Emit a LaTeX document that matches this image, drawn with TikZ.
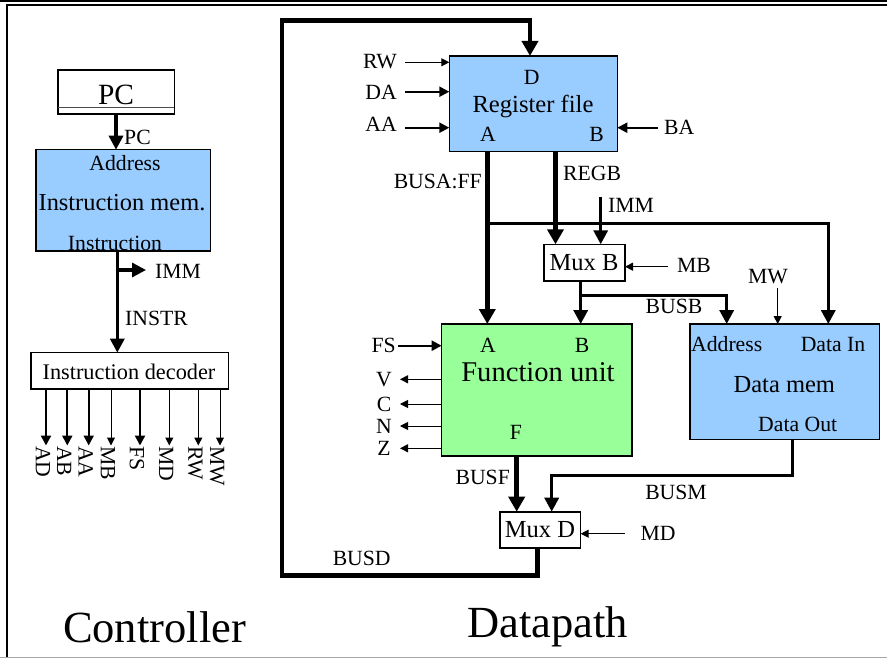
\documentclass[tikz,border=0pt]{standalone}
\usepackage{fontspec}
\setmainfont{Liberation Serif}
\usetikzlibrary{arrows.meta,calc}
\definecolor{memblue}{HTML}{99CCFF}
\definecolor{fugreen}{HTML}{99FF99}
\begin{document}
\begin{tikzpicture}[x=1pt,y=-1pt,line join=miter,
 box/.style={draw=black,line width=1.6pt,inner sep=0pt,outer sep=0pt},
 lbl/.style={inner sep=0pt,font=\fontsize{21.7}{22}\selectfont},
 midtxt/.style={inner sep=0pt,font=\fontsize{24.5}{25}\selectfont},
 bigtxt/.style={inner sep=0pt,font=\fontsize{44.5}{45}\selectfont},
 sigar/.style={line width=1pt,-{Triangle[length=8pt,width=8pt]}},
 ctlar/.style={line width=2.2pt,-{Triangle[length=10pt,width=10pt]}},
 busar/.style={line width=3.3pt,-{Triangle[length=14pt,width=14pt]}},
 widebus/.style={line width=4.5pt,-{Triangle[length=15pt,width=16pt]}},
]
\useasboundingbox (0,0) rectangle (887,658);
% frame
\draw[line width=2pt] (0,1) -- (887,1);
\draw[line width=2pt] (6,5.5) -- (887,5.5);
\draw[line width=2pt] (7,5.5) -- (7,657);
\draw[line width=1.5pt,black!35] (0,657.3) -- (887,657.3);

% ---------------- Controller ----------------
\node[box,minimum width=116.6pt,minimum height=44pt] (pc) at (116,92) {};
\draw[line width=0.8pt,black!70] ($(pc.south west)+(0,-7)$) -- ($(pc.south east)+(0,-7)$);
\node[inner sep=0pt,font=\fontsize{29.4}{30}\selectfont] (pctxt) at (116,95) {PC};

\node[box,fill=memblue,minimum width=174.7pt,minimum height=101pt] (imem) at (123.3,200.2) {};
\node[lbl] (imaddr) at (125,163) {Address};
\node[inner sep=0pt,font=\fontsize{24.4}{25}\selectfont] (imname) at (122,203) {Instruction mem.};
\node[lbl] (iminstr) at (115,243) {Instruction};

\draw[busar] (116,0 |- pc.south) -- (116,0 |- imem.north);
\node[lbl,anchor=west] (pclbl) at (124,137) {PC};

\node[box,fill=white,minimum width=197.6pt,minimum height=36.3pt] (dec) at (129.5,370.8) {};
\node[inner sep=0pt,font=\fontsize{22.3}{23}\selectfont] (dectxt) at (129,372) {Instruction decoder};

\coordinate (jimm) at (117.3,270);
\draw[busar] (117.3,0 |- imem.south) -- (117.3,0 |- dec.north);
\draw[busar] (jimm) -- (146,270);
\node[lbl,anchor=west] (immc) at (155,271) {IMM};
\node[lbl,anchor=west] (instrl) at (125,318) {INSTR};

\foreach \x/\t/\s in {46/AD/ctlar,67.3/AB/ctlar,88.7/AA/ctlar,111/MB/sigar,140/FS/ctlar,169.3/MD/sigar,198.3/RW/sigar,220/MW/sigar}{
  \draw[\s] (\x,0 |- dec.south) -- (\x,445.5);
  \node[lbl,rotate=-90,anchor=west] (o\t) at (\x-3,446) {\t};
}

\node[bigtxt] (ctrl) at (154.5,627) {Controller};

% ---------------- Datapath ----------------
\node[box,fill=memblue,minimum width=168pt,minimum height=95.7pt] (rf) at (533.3,103.8) {};
\node[lbl] (rfD) at (531.7,77) {D};
\node[inner sep=0pt,font=\fontsize{24.6}{25}\selectfont] (rfname) at (533,106) {Register file};
\node[lbl] (rfA) at (488,134) {A};
\node[lbl] (rfB) at (596.7,134) {B};

\node[box,fill=white,minimum width=81pt,minimum height=36.4pt] (muxb) at (584.5,262.5) {};
\node[midtxt] (muxbt) at (584,263) {Mux B};

\node[box,fill=fugreen,minimum width=190.3pt,minimum height=132pt] (fu) at (536.8,390) {};
\node[lbl] (fuA) at (488,345) {A};
\node[lbl] (fuB) at (582,345) {B};
\node[inner sep=0pt,font=\fontsize{28.6}{29}\selectfont] (funame) at (538,372) {Function unit};
\node[lbl] (fuF) at (516,432) {F};

\node[box,fill=memblue,minimum width=189.3pt,minimum height=115.3pt] (dm) at (784.7,381.7) {};
\node[lbl] (dmaddr) at (726.7,344.3) {Address};
\node[lbl] (dmin) at (833,344.3) {Data In};
\node[midtxt] (dmname) at (784.3,385) {Data mem};
\node[lbl] (dmout) at (797.7,424) {Data Out};

\node[box,fill=white,minimum width=80.7pt,minimum height=36pt] (muxd) at (540.3,529.7) {};
\node[midtxt] (muxdt) at (540,530) {Mux D};

% register file inputs
\draw[sigar] (405,62.3) -- (rf.west |- 0,62.3);
\draw[ctlar] (405,91.7) -- (rf.west |- 0,91.7);
\draw[ctlar] (405,127.7) -- (rf.west |- 0,127.7);
\node[lbl,anchor=east] (rw) at (397,62) {RW};
\node[lbl,anchor=east] (da) at (397,92) {DA};
\node[lbl,anchor=east] (aa) at (397,124) {AA};
\draw[ctlar] (658,127.7) -- (rf.east |- 0,127.7);
\node[lbl,anchor=west] (ba) at (664,127) {BA};

% BUSD loop
\coordinate (dl1) at (537.7,575.7);
\coordinate (dl2) at (282,575.7);
\coordinate (dl3) at (282,20.7);
\coordinate (dl4) at (530,20.7);
\draw[widebus] (537.7,0 |- muxd.south) -- (dl1) -- (dl2) -- (dl3) -- (dl4) -- (530,0 |- rf.north);
\node[lbl] (busd) at (361.7,558.3) {BUSD};

% BUSA
\coordinate (ja) at (487.3,223.3);
\draw[widebus] (487.3,0 |- rf.south) -- (487.3,0 |- fu.north);
\draw[busar] (ja) -- (828.3,223.3) -- (828.3,0 |- dm.north);
\node[lbl,anchor=east] (busal) at (482,181) {BUSA:FF};

% REGB and IMM
\draw[widebus] (555.5,0 |- rf.south) -- (555.5,0 |- muxb.north);
\node[lbl,anchor=west] (regb) at (563,173) {REGB};
\coordinate (immtop) at (600.7,196.7);
\draw[busar] (immtop) -- (600.7,0 |- muxb.north);
\node[lbl,anchor=west] (immd) at (608,205) {IMM};
\draw[sigar] (668,266.7) -- (muxb.east |- 0,266.7);
\node[lbl,anchor=west] (mb) at (677,265) {MB};

% BUSB
\coordinate (jb) at (580.7,295.7);
\draw[busar] (580.7,0 |- muxb.south) -- (580.7,0 |- fu.north);
\draw[busar] (jb) -- (726.7,295.7) -- (726.7,0 |- dm.north);
\node[lbl] (busb) at (674,306.7) {BUSB};
\draw[sigar] (777.7,288) -- (777.7,0 |- dm.north);
\node[lbl] (mw) at (768,277) {MW};

% function unit I/O
\draw[ctlar] (398,345.7) -- (fu.west |- 0,345.7);
\node[lbl,anchor=east] (fs) at (396,345) {FS};
\foreach \y/\t in {379.3/V,404/C,426/N,448.3/Z}{
  \draw[sigar] (fu.west |- 0,\y) -- (400,\y);
  \node[lbl] (f\t) at (384,\y) {\t};
}

% BUSF, BUSM
\draw[widebus] (516.7,0 |- fu.south) -- (516.7,0 |- muxd.north);
\node[lbl] (busf) at (482.7,477.7) {BUSF};
\coordinate (jm1) at (792.3,475.7);
\coordinate (jm2) at (551.7,475.7);
\draw[busar] (792.3,0 |- dm.south) -- (jm1) -- (jm2) -- (551.7,0 |- muxd.north);
\node[lbl] (busm) at (676,492.7) {BUSM};
\draw[sigar] (625,533.7) -- (muxd.east |- 0,533.7);
\node[lbl] (md) at (658,533) {MD};

\node[bigtxt] (dpath) at (547.5,627) {Datapath};
\end{tikzpicture}
\end{document}
